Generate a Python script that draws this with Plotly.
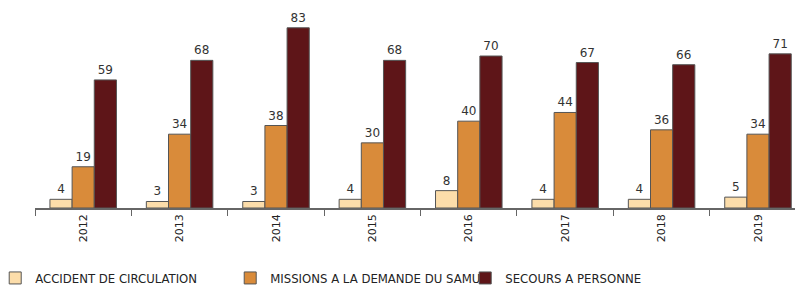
import plotly.graph_objects as go

years = ["2012", "2013", "2014", "2015", "2016", "2017", "2018", "2019"]
accident = [4, 3, 3, 4, 8, 4, 4, 5]
missions = [19, 34, 38, 30, 40, 44, 36, 34]
secours = [59, 68, 83, 68, 70, 67, 66, 71]

series = [
    ("ACCIDENT DE CIRCULATION", accident, "#FCDDAA"),
    ("MISSIONS A LA DEMANDE DU SAMU", missions, "#D98B3A"),
    ("SECOURS A PERSONNE", secours, "#5E1518"),
]

fig = go.Figure()
for name, vals, col in series:
    fig.add_trace(go.Bar(
        x=years, y=vals, name=name,
        marker=dict(color=col, line=dict(color="#555555", width=1)),
        text=[str(v) for v in vals], textposition="outside",
        textfont=dict(family="DejaVu Sans", size=12, color="#333333"),
        cliponaxis=False,
    ))

# page body has an 8px margin, so the figure is 8px smaller and offset
fig.update_layout(
    width=795, height=279,
    margin=dict(l=27, r=0, t=2, b=79, autoexpand=False),
    paper_bgcolor="white", plot_bgcolor="white",
    barmode="group", bargap=0.31, bargroupgap=0,
    showlegend=True,
    legend=dict(
        orientation="h", xref="paper", yref="paper",
        x=-0.0518, y=-0.3535, xanchor="left", yanchor="middle",
        font=dict(family="DejaVu Sans Condensed", size=13, color="#222222"),
        entrywidth=190, entrywidthmode="pixels",
        itemwidth=30, traceorder="normal",
    ),
    xaxis=dict(
        type="category", range=[-0.5, 7.467], automargin=False,
        showline=True, linecolor="#666666", linewidth=1.5,
        ticks="outside", tickson="boundaries", ticklen=6, tickcolor="#666666",
        tickangle=-90,
        tickfont=dict(family="DejaVu Sans", size=11, color="#222222"),
        showgrid=False, zeroline=False,
    ),
    yaxis=dict(range=[0, 91.2], visible=False, showgrid=False, automargin=False),
)

fig.write_html("out.html")
